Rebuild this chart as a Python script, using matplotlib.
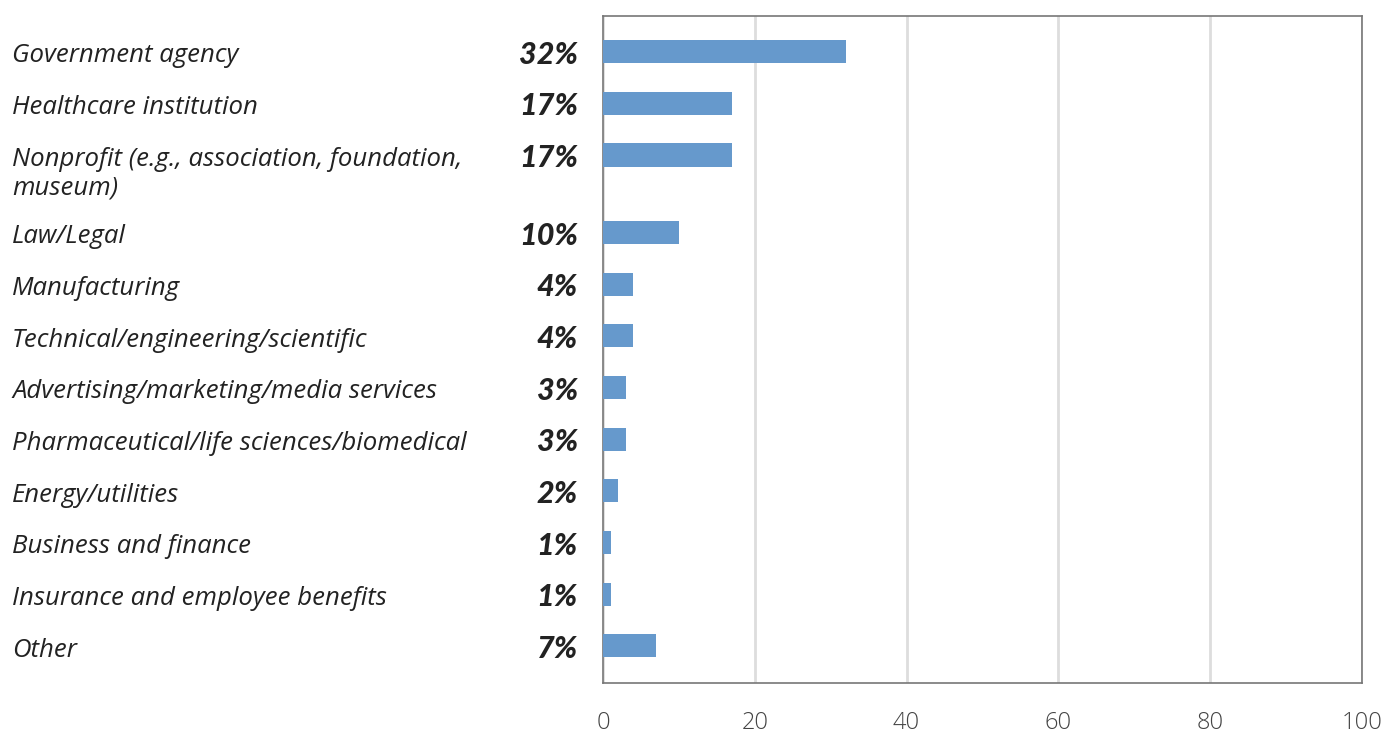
import matplotlib
matplotlib.use('Agg')
import matplotlib.pyplot as plt
import matplotlib.transforms as mtransforms

# survey answers, top to bottom
categories = ["Government agency", "Healthcare institution",
              "Nonprofit (e.g., association, foundation,\nmuseum)",
              "Law/Legal", "Manufacturing", "Technical/engineering/scientific",
              "Advertising/marketing/media services",
              "Pharmaceutical/life sciences/biomedical", "Energy/utilities",
              "Business and finance", "Insurance and employee benefits", "Other"]
values = [32, 17, 17, 10, 4, 4, 3, 3, 2, 1, 1, 7]
xticks = [0, 20, 40, 60, 80, 100]

# row positions (extra half row after the two-line label)
rows = []
y = 0.0
for i, c in enumerate(categories):
    rows.append(y)
    y += 1.5 if "\n" in c else 1.0

plt.rcParams['font.family'] = ['Lato', 'DejaVu Sans']

fig = plt.figure(figsize=(13.85, 7.34), dpi=100)
ax = fig.add_axes([603/1385, 1 - 683/734, 759/1385, 667/734])

ax.barh(rows, values, height=0.45, color='#6699CC', zorder=3)

ax.set_xlim(0, 100)
ax.set_ylim(rows[-1] + 0.72, -0.69)
ax.set_xticks(xticks)
ax.set_xticklabels([str(t) for t in xticks], fontsize=17, color='#444444',
                   fontfamily='Open Sans', fontweight='light')
ax.tick_params(axis='x', length=0, pad=20)
ax.set_yticks([])
ax.grid(axis='x', color='#dddddd', linewidth=2, zorder=0)
for s in ax.spines.values():
    s.set_color('#777777')
    s.set_linewidth(1.2)

lbl_tr = mtransforms.blended_transform_factory(fig.transFigure, ax.transData)
pct_tr = mtransforms.blended_transform_factory(ax.transAxes, ax.transData)
for pos, cat, v in zip(rows, categories, values):
    ax.text(12/1385, pos - 0.16, cat, transform=lbl_tr, ha='left', va='top',
            fontsize=18.5, style='italic', color='#222222', linespacing=1.18,
            fontfamily='Open Sans')
    ax.text(-0.033, pos + 0.06, f"{v}%", transform=pct_tr, ha='right', va='center',
            fontsize=22, style='italic', fontweight='black', color='#222222')

fig.savefig('out.png', dpi=100)
